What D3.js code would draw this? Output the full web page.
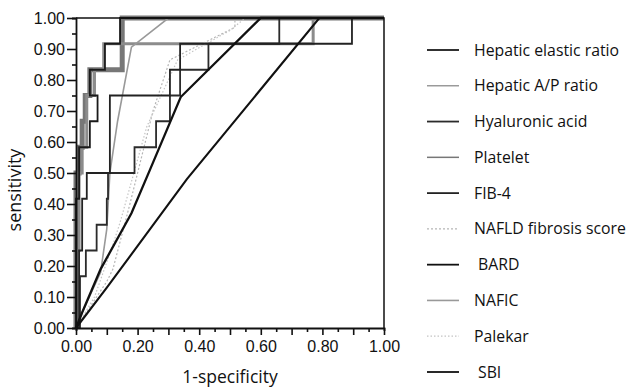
<!DOCTYPE html>
<html>
<head>
<meta charset="utf-8">
<script src="https://cdn.jsdelivr.net/npm/d3@7"></script>
<style>
  body { margin: 0; background: #fff; }
  .tick text { font-family: "Liberation Sans", Arial, sans-serif; font-size: 16px; fill: #111; }
  .title, .legend text { font-family: "Open Sans", "Noto Sans", sans-serif; fill: #111; }
</style>
</head>
<body>
<svg id="chart" width="636" height="390"></svg>
<script>
// ROC curves, [1-specificity, sensitivity]
const hepaticElastic = [[0,0],[0,0.417],[0.01,0.417],[0.01,0.583],[0.045,0.583],[0.045,0.667],[0.07,0.667],[0.07,0.75],[0.045,0.75],[0.045,0.833],[0.094,0.833],[0.094,0.917],[0.143,0.917],[0.143,1],[1,1]];
const hepaticAP = [[0,0],[0,0.25],[0.01,0.25],[0.01,0.5],[0.02,0.5],[0.02,0.583],[0.035,0.583],[0.035,0.75],[0.06,0.75],[0.06,0.833],[0.09,0.833],[0.09,0.917],[0.77,0.917],[0.77,1],[1,1]];
const hyaluronic = [[0,0],[0.013,0],[0.013,0.167],[0.032,0.167],[0.032,0.25],[0.067,0.25],[0.067,0.333],[0.1,0.333],[0.1,0.417],[0.104,0.417],[0.104,0.5],[0.19,0.5],[0.19,0.583],[0.26,0.583],[0.26,0.667],[0.305,0.667],[0.305,0.75],[0.338,0.75],[0.338,0.833],[0.43,0.833],[0.43,0.917],[0.66,0.917],[0.66,1],[1,1]];
const platelet = [[0,0],[0,0.5],[0.01,0.5],[0.01,0.583],[0.02,0.583],[0.02,0.667],[0.03,0.667],[0.03,0.75],[0.045,0.75],[0.045,0.833],[0.15,0.833],[0.15,1],[1,1]];
const fib4 = [[0,0],[0.01,0],[0.01,0.25],[0.02,0.25],[0.02,0.417],[0.035,0.417],[0.035,0.5],[0.11,0.5],[0.11,0.75],[0.305,0.75],[0.305,0.833],[0.338,0.833],[0.338,0.917],[0.896,0.917],[0.896,1],[1,1]];
const nafld = [[0,0],[0.02,0.03],[0.1,0.15],[0.12,0.19],[0.175,0.4],[0.2,0.5],[0.25,0.7],[0.305,0.865],[0.516,0.97],[0.516,1],[1,1]];
const bard = [[0,0],[0.02,0.05],[0.08,0.19],[0.18,0.37],[0.24,0.51],[0.34,0.745],[0.6,1],[1,1]];
const nafic = [[0,0],[0.02,0.05],[0.08,0.18],[0.1,0.32],[0.11,0.5],[0.135,0.667],[0.18,0.906],[0.3,1],[1,1]];
const palekar = [[0,0],[0.06,0.1],[0.117,0.26],[0.143,0.34],[0.23,0.65],[0.33,0.865],[0.5,0.96],[0.55,1],[1,1]];
const sbi = [[0,0],[0.1,0.13],[0.36,0.48],[0.79,1],[1,1]];

const seriesNames = ['Hepatic elastic ratio','Hepatic A/P ratio','Hyaluronic acid','Platelet','FIB-4','NAFLD fibrosis score','BARD','NAFIC','Palekar','SBI'];
const seriesData = [hepaticElastic, hepaticAP, hyaluronic, platelet, fib4, nafld, bard, nafic, palekar, sbi];
const xTicks = [0, 0.2, 0.4, 0.6, 0.8, 1.0];
const yTicks = [0, 0.1, 0.2, 0.3, 0.4, 0.5, 0.6, 0.7, 0.8, 0.9, 1.0];

// line styles, same order as names
const styles = [
  { color: '#1a1a1a', width: 1.8 },
  { color: '#8c8c8c', width: 3, legendWidth: 1.3 },
  { color: '#2b2b2b', width: 1.8 },
  { color: '#777', width: 5, legendWidth: 1.5 },
  { color: '#222', width: 1.8 },
  { color: '#b5b5b5', width: 1.2, dash: '2,2' },
  { color: '#111', width: 2.3 },
  { color: '#999', width: 1.6 },
  { color: '#c4c4c4', width: 1.2, dash: '1.5,2' },
  { color: '#111', width: 2.1 }
];
// drawing order: thick gray first
const drawOrder = [3, 1, 7, 5, 8, 2, 4, 0, 9, 6];

const margin = { top: 18, left: 76 };
const width = 308, height = 310;

const svg = d3.select('#chart');
const chart = svg.append('g').attr('transform', `translate(${margin.left},${margin.top})`);

const x = d3.scaleLinear().domain([0, 1]).range([0, width]);
const y = d3.scaleLinear().domain([0, 1]).range([height, 0]);

const line = d3.line().x(d => x(d[0])).y(d => y(d[1]));

drawOrder.forEach(i => {
  chart.append('path')
    .datum(seriesData[i])
    .attr('fill', 'none')
    .attr('stroke', styles[i].color)
    .attr('stroke-width', styles[i].width)
    .attr('stroke-dasharray', styles[i].dash || null)
    .attr('d', line);
});

// frame top/right
chart.append('path')
  .attr('d', `M0,0H${width}V${height}`)
  .attr('fill', 'none')
  .attr('stroke', '#111')
  .attr('stroke-width', 1.5);

// axes
const minorX = d3.range(0, 1.0001, 0.05);
const xAxis = chart.append('g')
  .attr('transform', `translate(0,${height})`)
  .call(d3.axisBottom(x).tickValues(minorX).tickSize(3).tickFormat(''));
xAxis.selectAll('.tick line').attr('y2', (d, i) => i % 2 === 0 ? 7 : 4);
chart.append('g')
  .attr('transform', `translate(0,${height})`)
  .call(d3.axisBottom(x).tickValues(xTicks).tickSize(0).tickPadding(13).tickFormat(d3.format('.2f')))
  .call(g => g.select('.domain').remove());

const minorY = d3.range(0, 1.0001, 0.05);
const yAxis = chart.append('g')
  .call(d3.axisLeft(y).tickValues(minorY).tickSize(4).tickFormat(''));
yAxis.selectAll('.tick line').attr('x2', (d, i) => i % 2 === 0 ? -9 : -4);
chart.append('g')
  .call(d3.axisLeft(y).tickValues(yTicks).tickSize(0).tickPadding(11).tickFormat(d3.format('.2f')))
  .call(g => g.select('.domain').remove());

svg.selectAll('.domain').attr('stroke', '#111').attr('stroke-width', 1.8);
svg.selectAll('.tick line').attr('stroke', '#111').attr('stroke-width', 1.6);

// axis titles
svg.append('text')
  .attr('class', 'title')
  .attr('x', margin.left + width / 2)
  .attr('y', 383)
  .attr('text-anchor', 'middle')
  .style('font-size', '17.5px')
  .text('1-specificity');

svg.append('text')
  .attr('class', 'title')
  .attr('transform', `translate(21,${margin.top + height / 2 + 17}) rotate(-90)`)
  .attr('text-anchor', 'middle')
  .style('font-size', '18px')
  .text('sensitivity');

// legend
const legendY = d3.scaleLinear().domain([0, seriesNames.length - 1]).range([50, 372]);
const legend = svg.append('g').attr('class', 'legend');
seriesNames.forEach((name, i) => {
  const ly = legendY(i);
  legend.append('line')
    .attr('x1', 427).attr('x2', 459)
    .attr('y1', ly).attr('y2', ly)
    .attr('stroke', styles[i].color)
    .attr('stroke-width', styles[i].legendWidth || Math.min(styles[i].width, 1.8))
    .attr('stroke-dasharray', styles[i].dash || null);
  legend.append('text')
    .attr('x', (name === 'BARD' || name === 'SBI') ? 478 : 474)
    .attr('y', ly + 5.5)
    .style('font-size', '15.8px')
    .text(name);
});
</script>
</body>
</html>
